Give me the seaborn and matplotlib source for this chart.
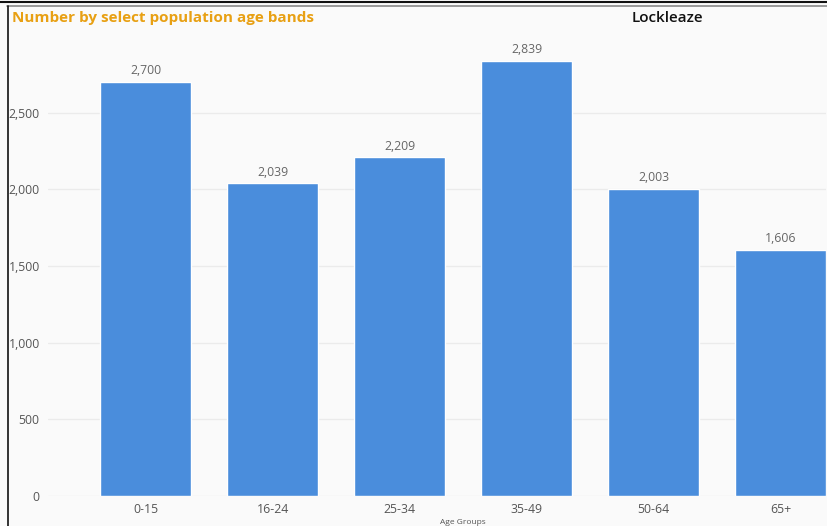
import matplotlib
matplotlib.use("Agg")
import matplotlib.pyplot as plt
import seaborn as sns
import pandas as pd
from matplotlib.lines import Line2D

age_groups = ["0-15", "16-24", "25-34", "35-49", "50-64", "65+"]
population = [2700, 2039, 2209, 2839, 2003, 1606]
y_ticks = [0, 500, 1000, 1500, 2000, 2500]

df = pd.DataFrame({"Age Groups": age_groups, "Number": population})

sns.set_theme(style="white")
plt.rcParams["font.family"] = ["Open Sans", "DejaVu Sans"]

bg = "#fafafa"
fig = plt.figure(figsize=(8.27, 5.26), dpi=100, facecolor=bg)
ax = fig.add_axes([48 / 827, 30 / 526, (826 - 48) / 827, (496 - 30) / 526])
ax.set_facecolor(bg)

sns.barplot(data=df, x="Age Groups", y="Number", color="#4a8ddc",
            width=0.72, saturation=1, ax=ax, zorder=3)

ax.set_xlim(-0.768, 5.358)
ax.set_ylim(0, 3040)
ax.set_yticks(y_ticks)
ax.set_yticklabels([f"{v:,}" for v in y_ticks])
ax.yaxis.grid(True, color="#ebebeb", linewidth=1, zorder=0)
for s in ax.spines.values():
    s.set_visible(False)
ax.tick_params(axis="both", length=0, labelsize=8.8, labelcolor="#555555")
ax.tick_params(axis="y", pad=6)
ax.tick_params(axis="x", pad=5)
ax.set_xlabel("")
ax.set_ylabel("")

for patch, v in zip(ax.patches, population):
    ax.annotate(f"{v:,}", (patch.get_x() + patch.get_width() / 2, v),
                xytext=(0, 3.5), textcoords="offset points",
                ha="center", va="bottom", fontsize=8.8, color="#666666")

fig.text(463 / 827, 1 - 522 / 526, "Age Groups", ha="center", va="center",
         fontsize=6, color="#555555")
fig.text(12 / 827, 1 - 18 / 526, "Number by select population age bands",
         ha="left", va="center", fontsize=11, fontweight="bold", color="#e8a013")
fig.text(667 / 827, 1 - 18 / 526, "Lockleaze", ha="center", va="center",
         fontsize=11, fontweight="semibold", color="#111111")

# frame lines
fig.add_artist(Line2D([0, 1], [1 - 1.5 / 526] * 2, color="#111111", linewidth=1.5,
                      transform=fig.transFigure))
fig.add_artist(Line2D([7 / 827, 1], [1 - 5.5 / 526] * 2, color="#888888", linewidth=1.2,
                      transform=fig.transFigure))
fig.add_artist(Line2D([7.5 / 827] * 2, [0, 1 - 5.5 / 526], color="#111111", linewidth=1.2,
                      transform=fig.transFigure))

fig.savefig("out.png", dpi=100, facecolor=bg)
